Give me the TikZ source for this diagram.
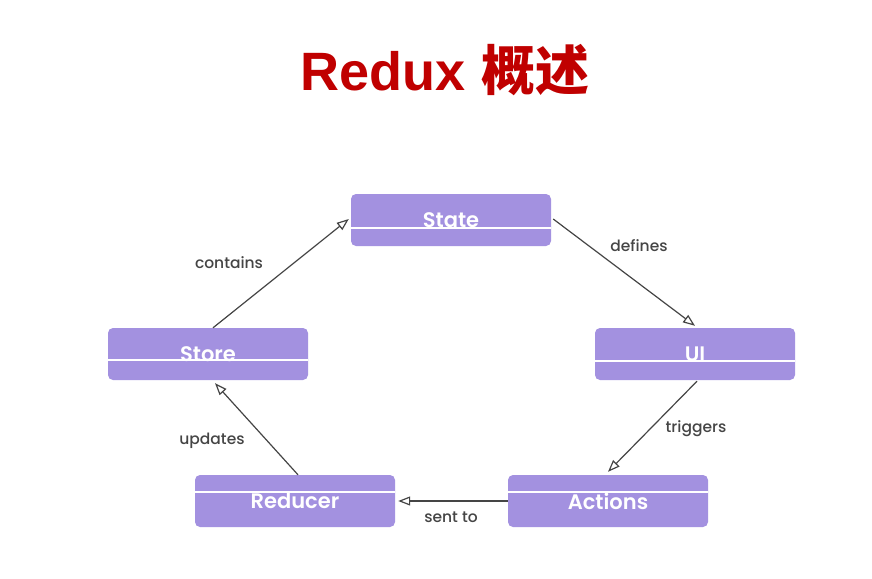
\documentclass[tikz,border=0pt]{standalone}
\usepackage{fontspec}
\setmainfont{Poppins}
\newfontfamily\titlefont{Liberation Sans}
\newfontfamily\cjk{Noto Sans CJK SC}
\newfontfamily\boxfont{Poppins SemiBold}
\newfontfamily\lblfont{Poppins Medium}
\usetikzlibrary{arrows.meta,calc}
\definecolor{boxfill}{HTML}{A391E0}
\definecolor{titlered}{HTML}{C00000}
\definecolor{labelgray}{HTML}{454545}
\definecolor{linegray}{HTML}{454545}
\begin{document}
\begin{tikzpicture}[x=1pt,y=-1pt,
  flowbox/.style={draw=none,fill=boxfill,rounded corners=5pt,minimum width=200pt,minimum height=52pt,inner sep=0pt,text=white,font=\boxfont\fontsize{21}{25}\selectfont},
  flowarrow/.style={draw=linegray,line width=1.2pt,-{Triangle[open,length=12pt,width=9pt]}},
  lbl/.style={text=labelgray,font=\lblfont\fontsize{15.5}{18}\selectfont,inner sep=0pt},
  scanline/.style={draw=white,line width=1.5pt}]
\useasboundingbox (0,0) rectangle (872,578);
\fill[white] (0,0) rectangle (872,578);
\node[text=titlered,inner sep=0pt,anchor=base] (title) at (445,90) {\titlefont\bfseries\fontsize{54}{62}\selectfont Redux \cjk\bfseries 概述};
\node[flowbox] (state) at (451,220) {\raisebox{-2pt}{State}};
\node[flowbox] (store) at (208,354) {\raisebox{-2pt}{Store}};
\node[flowbox] (ui) at (695,354) {\raisebox{-2pt}{UI}};
\node[flowbox] (reducer) at (295,501) {Reducer};
\node[flowbox] (actions) at (608,501) {Actions};
\draw[scanline] ($(state.west)+(0,8)$) -- ($(state.east)+(0,8)$);
\draw[scanline] ($(store.west)+(0,6)$) -- ($(store.east)+(0,6)$);
\draw[scanline] ($(ui.west)+(0,7)$) -- ($(ui.east)+(0,7)$);
\draw[scanline] ($(reducer.west)+(0,-9)$) -- ($(reducer.east)+(0,-9)$);
\draw[scanline] ($(actions.west)+(0,-9)$) -- ($(actions.east)+(0,-9)$);
\draw[flowarrow] ($(store.north)+(5,0)$) -- ($(state.west)+(-2,-1)$);
\draw[flowarrow] ($(state.east)+(2,-1)$) -- ($(ui.north)+(0,-2)$);
\draw[flowarrow] ($(ui.south)+(2,1)$) -- ($(actions.north)+(0,-3)$);
\draw[flowarrow] (actions.west) -- ($(reducer.east)+(3,0)$);
\draw[flowarrow] ($(reducer.north)+(3,0)$) -- ($(store.south)+(7,3)$);
\node[lbl] (lcontains) at (229,263) {contains};
\node[lbl] (ldefines) at (639,246) {defines};
\node[lbl] (ltriggers) at (696,429) {triggers};
\node[lbl] (lsent) at (451,517) {sent to};
\node[lbl] (lupdates) at (212,441) {updates};
\end{tikzpicture}
\end{document}
